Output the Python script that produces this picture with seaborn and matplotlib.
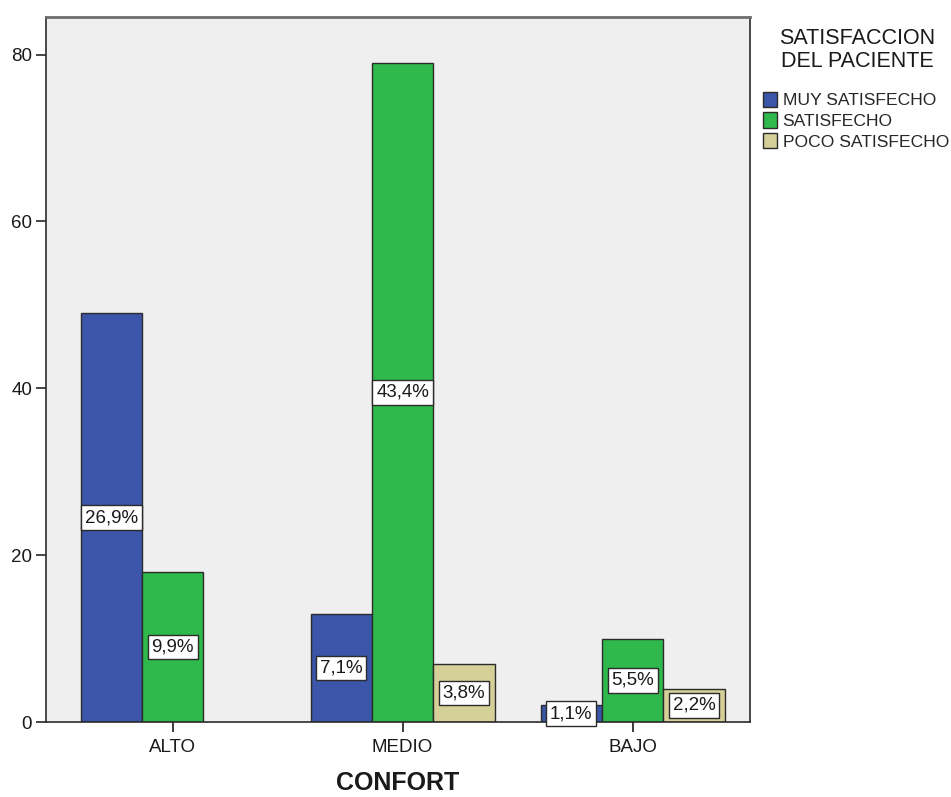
import matplotlib
matplotlib.use("Agg")
import matplotlib.pyplot as plt
import seaborn as sns
import pandas as pd

# Counts of patients by comfort level and satisfaction
confort = ["ALTO", "ALTO", "MEDIO", "MEDIO", "MEDIO", "BAJO", "BAJO", "BAJO"]
satisfaccion = ["MUY SATISFECHO", "SATISFECHO",
                "MUY SATISFECHO", "SATISFECHO", "POCO SATISFECHO",
                "MUY SATISFECHO", "SATISFECHO", "POCO SATISFECHO"]
conteo = [49, 18, 13, 79, 7, 2, 10, 4]

niveles_confort = ["ALTO", "MEDIO", "BAJO"]
niveles_satisf = ["MUY SATISFECHO", "SATISFECHO", "POCO SATISFECHO"]
colores = ["#3b55a8", "#2fb84b", "#d5cf98"]
y_ticks = [0, 20, 40, 60, 80]

df = pd.DataFrame({"CONFORT": confort, "SATISFACCION": satisfaccion, "n": conteo})
total = df["n"].sum()

sns.set_theme(style="white")
plt.rcParams["font.family"] = ["Liberation Sans", "DejaVu Sans"]

fig = plt.figure(figsize=(9.51, 7.97), dpi=100)
ax = fig.add_axes([0.0484, 0.0941, 0.7402, 0.8846])
ax.set_facecolor("#efefef")

sns.barplot(data=df, x="CONFORT", y="n", hue="SATISFACCION",
            order=niveles_confort, hue_order=niveles_satisf,
            palette=colores, width=0.8, saturation=1,
            edgecolor="#2b2b2b", linewidth=1.0, ax=ax)

# Percentage labels centered on each bar
for cont in ax.containers:
    for bar in cont:
        h = bar.get_height()
        if h is None or h != h or h <= 0:
            continue
        pct = h / total * 100
        txt = f"{pct:.1f}%".replace(".", ",")
        ax.text(bar.get_x() + bar.get_width() / 2, h / 2, txt,
                ha="center", va="center", fontsize=13.5, color="#1a1a1a",
                clip_on=False, zorder=5,
                bbox=dict(boxstyle="square,pad=0.2", fc="white",
                          ec="#2b2b2b", lw=1.0))

ax.set_ylim(0, 84.5)
ax.set_xlim(-0.55, 2.51)
ax.set_yticks(y_ticks)
ax.set_yticklabels([str(t) for t in y_ticks], fontsize=13.5, color="#1a1a1a")
ax.tick_params(axis="x", labelsize=13.5, colors="#1a1a1a", length=7, width=1.2,
               direction="out", bottom=True, pad=5)
ax.tick_params(axis="y", length=7, width=1.2, direction="out", left=True, pad=3)
ax.set_ylabel("")
ax.set_xlabel("CONFORT", fontsize=18, fontweight="bold", color="#1a1a1a", labelpad=11)

for side in ["left", "bottom", "top", "right"]:
    ax.spines[side].set_visible(True)
    ax.spines[side].set_color("#2b2b2b")
    ax.spines[side].set_linewidth(1.2)
ax.spines["top"].set_color("#6e6e6e")
ax.spines["top"].set_linewidth(2)

# Legend title drawn separately, centered over the legend entries
fig.text(857 / 951, 1 - 50 / 797, "SATISFACCION\nDEL PACIENTE", ha="center",
         va="center", fontsize=15.5, color="#1a1a1a", linespacing=1.1)

leg = ax.legend(loc="upper left", bbox_to_anchor=(759 / 951, 1 - 88 / 797),
                bbox_transform=fig.transFigure, frameon=False, fontsize=12.6,
                handlelength=0.85, handleheight=0.95,
                handletextpad=0.3, labelspacing=0.25, borderaxespad=0.0,
                borderpad=0.2, title=None)
for handle in leg.legend_handles:
    handle.set_edgecolor("#2b2b2b")
    handle.set_linewidth(1.0)

fig.savefig("out.png", dpi=100, facecolor="white")
